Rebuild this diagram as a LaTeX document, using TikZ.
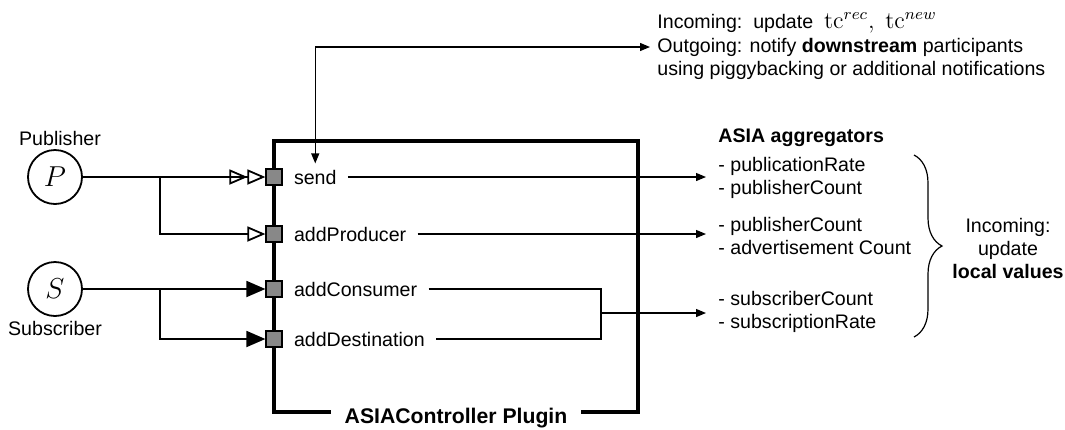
\documentclass[tikz,border=0pt]{standalone}
\usepackage[no-math]{fontspec}
\setmainfont{Liberation Sans}
\usetikzlibrary{arrows.meta,decorations.pathreplacing}
\definecolor{portgray}{RGB}{136,136,136}

\begin{document}
\begin{tikzpicture}[x=0.5pt,y=-0.5pt,line join=miter,
  txt/.style={font=\fontsize{9.8}{11.5}\selectfont,inner sep=0pt},
  hdr/.style={txt,font=\fontsize{9.8}{11.5}\selectfont\bfseries,anchor=west},
  port/.style={draw,fill=portgray,minimum size=8pt,inner sep=0pt,line width=0.6pt},
  op/.style={txt,anchor=west,inner xsep=5.5pt,inner ysep=3pt},
  agg/.style={txt,anchor=west,align=left,inner xsep=6pt},
  note/.style={txt,anchor=west,inner xsep=3.5pt},
  party/.style={draw,circle,minimum size=27pt,inner sep=0pt,line width=0.9pt,
    font=\fontsize{14}{16}\selectfont},
  thinarr/.style={line width=0.6pt,-{Triangle[length=5pt,width=4pt]}},
  pubarr/.style={line width=0.9pt,-{Triangle[open,length=9pt,width=7.5pt]}},
  pubarrr/.style={line width=0.9pt,
    -{Triangle[open,length=9pt,width=7.5pt] Triangle[open,length=9pt,width=7.5pt]}},
  subarr/.style={line width=0.9pt,-{Triangle[length=9.5pt,width=8pt]}}]
  \useasboundingbox (0,0) rectangle (1065,429);

  % Plugin box
  \draw[line width=2.2pt] (274,141) rectangle (638,412);
  \node[font=\fontsize{10.6}{12}\selectfont\bfseries,fill=white,
    inner xsep=7pt,inner ysep=2pt] (plug) at (456,418) {ASIAController Plugin};

  % Ports and operations
  \node[port] (sendp) at (274,177) {};
  \node[port] (prodp) at (274,234) {};
  \node[port] (consp) at (274,289) {};
  \node[port] (destp) at (274,339) {};
  \node[op] (sendl) at (sendp.east) {send};
  \node[op] (prodl) at (prodp.east) {addProducer};
  \node[op] (consl) at (consp.east) {addConsumer};
  \node[op] (destl) at (destp.east) {addDestination};

  % Participants
  \node[party] (pub) at (55,177) {$P$};
  \node[txt] (publbl) at (60,138) {Publisher};
  \node[party] (sub) at (55,289) {$S$};
  \node[txt] (sublbl) at (55,328) {Subscriber};

  \coordinate (pbr) at (160,177);
  \coordinate (sbr) at (160,289);
  \draw[pubarrr] (pub) -- (sendp);
  \draw[pubarr] (pbr) |- (prodp);
  \draw[subarr] (sub) -- (consp);
  \draw[subarr] (sbr) |- (destp);

  % Notification text
  \node[note] (inc) at (650,23) {Incoming:\ \ update\ \ {\fontsize{12}{13}\selectfont$\mathrm{tc}^{rec},\ \mathrm{tc}^{new}$}};
  \node[note] (outg) at (650,47) {Outgoing: notify \textbf{downstream} participants};
  \node[note] (usng) at (650,70) {using piggybacking or additional notifications};
  \draw[line width=0.6pt,{Triangle[length=5pt,width=4pt]}-{Triangle[length=5pt,width=4pt]}]
    (sendl.north) |- (outg.west);

  % Aggregators
  \node[hdr] (agghdr) at (718,138) {ASIA aggregators};
  \node[agg] (agg1) at (706,178) {- publicationRate\\- publisherCount};
  \node[agg] (agg2) at (706,236) {- publisherCount\\- advertisement Count};
  \node[agg] (agg3) at (706,312) {- subscriberCount\\- subscriptionRate};

  \draw[thinarr] (sendl.east) -- (sendl.east -| agg1.west);
  \draw[thinarr] (prodl.east) -- (prodl.east -| agg2.west);
  \coordinate (jn) at (601,313);
  \draw[line width=0.6pt] (consl.east) -| (jn) |- (destl.east);
  \draw[thinarr] (jn) -- (jn -| agg3.west);

  % Brace
  \draw[line width=0.6pt,decorate,decoration={brace,amplitude=14pt}] (914,155) -- (914,337);
  \node[txt,align=center] (incl) at (1008,248) {Incoming:\\update\\\textbf{local values}};
\end{tikzpicture}
\end{document}
